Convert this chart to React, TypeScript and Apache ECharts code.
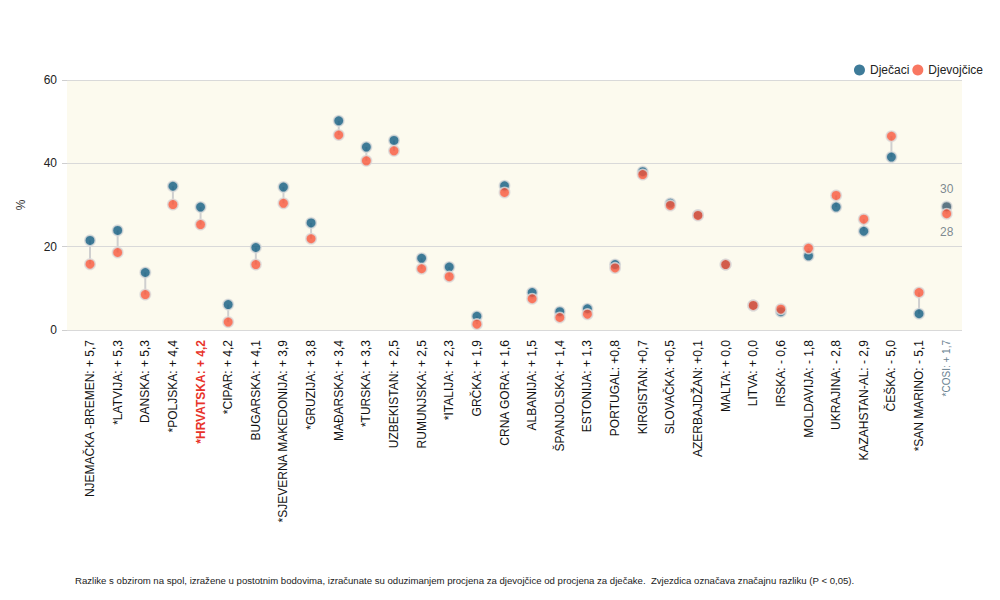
import React, { useEffect, useRef } from "react";
import * as echarts from "echarts";

const categories = [
  "NJEMAČKA -BREMEN: + 5,7",
  "*LATVIJA: + 5,3",
  "DANSKA: + 5,3",
  "*POLJSKA: + 4,4",
  "*HRVATSKA: + 4,2",
  "*CIPAR: + 4,2",
  "BUGARSKA: + 4,1",
  "*SJEVERNA MAKEDONIJA: + 3,9",
  "*GRUZIJA: + 3,8",
  "MAĐARSKA: + 3,4",
  "*TURSKA: + 3,3",
  "UZBEKISTAN: + 2,5",
  "RUMUNJSKA: + 2,5",
  "*ITALIJA: + 2,3",
  "GRČKA: + 1,9",
  "CRNA GORA: + 1,6",
  "ALBANIJA: + 1,5",
  "ŠPANJOLSKA: + 1,4",
  "ESTONIJA: + 1,3",
  "PORTUGAL: +0,8",
  "KIRGISTAN: +0,7",
  "SLOVAČKA: +0,5",
  "AZERBAJDŽAN: +0,1",
  "MALTA: + 0,0",
  "LITVA: + 0,0",
  "IRSKA: - 0,6",
  "MOLDAVIJA: - 1,8",
  "UKRAJINA: - 2,8",
  "KAZAHSTAN-AL: - 2,9",
  "ČEŠKA: - 5,0",
  "*SAN MARINO: - 5,1",
  "*COSI: + 1,7",
];

const boys = [
  21.5, 23.9, 13.8, 34.5, 29.5, 6.1, 19.8, 34.3, 25.7, 50.2, 43.9, 45.5, 17.2,
  15.1, 3.3, 34.6, 9.0, 4.4, 5.1, 15.7, 38.0, 30.4, 27.6, 15.7, 5.9, 4.4, 17.8,
  29.5, 23.7, 41.5, 3.9, 29.6,
];

const girls = [
  15.8, 18.6, 8.5, 30.1, 25.3, 1.9, 15.7, 30.4, 21.9, 46.8, 40.6, 43.0, 14.7,
  12.8, 1.4, 33.0, 7.5, 3.0, 3.8, 14.9, 37.3, 29.9, 27.5, 15.7, 5.9, 5.0, 19.6,
  32.3, 26.6, 46.5, 9.0, 27.9,
];

const yTicks = [0, 20, 40, 60];

const HIGHLIGHT_INDEX = 4;
const COSI_INDEX = categories.length - 1;

const BLUE = "#0e5a80";
const ORANGE = "#f8553a";
const FONT = "Liberation Sans, Arial, sans-serif";

export default function App() {
  const ref = useRef<HTMLDivElement>(null);

  useEffect(() => {
    if (!ref.current) return;
    const chart = echarts.init(ref.current, null, { renderer: "svg" });

    const symbolStyle = (color: string) => ({
      color,
      borderColor: "#dcdcdc",
      borderWidth: 1.6,
    });

    const option: any = {
      animation: false,
      textStyle: { fontFamily: FONT },
      legend: {
        top: 59,
        right: 12,
        itemWidth: 11,
        itemHeight: 11,
        itemGap: 3,
        icon: "circle",
        textStyle: { fontSize: 12, color: "#222", fontFamily: FONT },
        itemStyle: { borderWidth: 0 },
        data: ["Dječaci", "Djevojčice"],
      },
      grid: [
        {
          left: 67,
          width: 895,
          top: 80,
          height: 250,
          show: true,
          backgroundColor: "#fcfaee",
          borderWidth: 0,
        },
        {
          left: 76.2,
          width: 884.3,
          top: 80,
          height: 250,
        },
      ],
      xAxis: [
        {
          gridIndex: 0,
          type: "value",
          min: 0,
          max: 1,
          show: false,
        },
        {
          gridIndex: 1,
          type: "category",
          data: categories,
          boundaryGap: true,
          axisLine: { show: false },
          axisTick: { show: false },
          axisLabel: {
            interval: 0,
            rotate: 90,
            margin: 10,
            fontSize: 12,
            color: "#111",
            fontFamily: FONT,
            formatter: (value: string, index: number) => {
              if (index === HIGHLIGHT_INDEX) return "{hr|" + value + "}";
              if (index === COSI_INDEX) return "{cosi|" + value + "}";
              return value;
            },
            rich: {
              hr: {
                color: "#e8332a",
                fontWeight: "bold",
                fontSize: 12,
                fontFamily: FONT,
              },
              cosi: {
                color: "#6a8291",
                fontSize: 10,
                fontFamily: FONT,
              },
            },
          },
        },
      ],
      yAxis: [
        {
          gridIndex: 0,
          type: "value",
          min: yTicks[0],
          max: yTicks[yTicks.length - 1],
          interval: 20,
          name: "%",
          nameLocation: "middle",
          nameRotate: 90,
          nameGap: 40,
          nameTextStyle: { fontSize: 12, color: "#333", fontFamily: FONT },
          axisLine: { show: false },
          axisTick: {
            show: true,
            length: 5,
            lineStyle: { color: "#cfcfcf" },
          },
          axisLabel: {
            fontSize: 12,
            color: "#222",
            margin: 10,
            fontFamily: FONT,
          },
          splitLine: { lineStyle: { color: "#d9d9d9", width: 1 } },
        },
        {
          gridIndex: 1,
          type: "value",
          min: yTicks[0],
          max: yTicks[yTicks.length - 1],
          show: false,
          splitLine: { show: false },
        },
      ],
      series: [
        {
          type: "custom",
          xAxisIndex: 1,
          yAxisIndex: 1,
          silent: true,
          z: 1,
          data: boys.map((b, i) => [i, b, girls[i]]),
          renderItem: (params: any, api: any) => {
            const i = api.value(0);
            const p1 = api.coord([i, api.value(1)]);
            const p2 = api.coord([i, api.value(2)]);
            return {
              type: "line",
              shape: { x1: p1[0], y1: p1[1], x2: p2[0], y2: p2[1] },
              style: { stroke: "#cfcfcf", lineWidth: 2 },
            };
          },
        },
        {
          name: "Dječaci",
          type: "scatter",
          xAxisIndex: 1,
          yAxisIndex: 1,
          z: 2,
          symbol: "circle",
          symbolSize: 10.5,
          itemStyle: symbolStyle(BLUE),
          data: boys.map((v, i) =>
            i === COSI_INDEX
              ? {
                  value: v,
                  itemStyle: { color: "#36566a" },
                  label: {
                    show: true,
                    position: "top",
                    distance: 6,
                    fontSize: 12,
                    color: "#5b6b77",
                    fontFamily: FONT,
                    formatter: (p: any) => String(Math.round(p.value)),
                  },
                }
              : v
          ),
        },
        {
          name: "Djevojčice",
          type: "scatter",
          xAxisIndex: 1,
          yAxisIndex: 1,
          z: 3,
          symbol: "circle",
          symbolSize: 10.5,
          itemStyle: symbolStyle(ORANGE),
          data: girls.map((v, i) =>
            i === COSI_INDEX
              ? {
                  value: v,
                  label: {
                    show: true,
                    position: "bottom",
                    distance: 6,
                    fontSize: 12,
                    color: "#5b6b77",
                    fontFamily: FONT,
                    formatter: (p: any) => String(Math.round(p.value)),
                  },
                }
              : v
          ),
        },
      ],
      graphic: [
        {
          type: "text",
          left: 75,
          top: 575,
          style: {
            text:
              "Razlike s obzirom na spol, izražene u postotnim bodovima, izračunate su oduzimanjem procjena za djevojčice od procjena za dječake.  Zvjezdica označava značajnu razliku (P < 0,05).",
            fontSize: 9.6,
            fill: "#222",
            fontFamily: FONT,
          },
        },
      ],
    };

    chart.setOption(option);
    return () => chart.dispose();
  }, []);

  return (
    <div
      ref={ref}
      style={{ position: "absolute", left: 0, top: 0, width: 1000, height: 600 }}
    />
  );
}
